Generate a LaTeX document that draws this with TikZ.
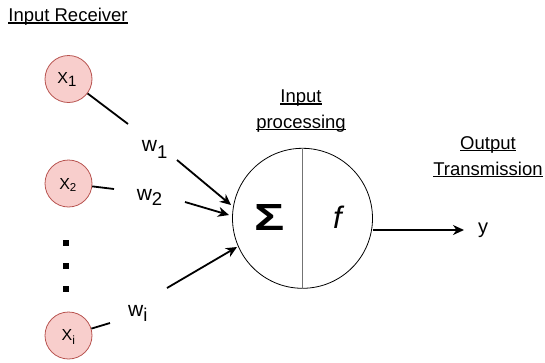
\documentclass[tikz,border=0pt]{standalone}
\usepackage{fontspec}
\setmainfont{Liberation Sans}
\usetikzlibrary{arrows.meta}
\definecolor{infill}{HTML}{F8CECC}
\definecolor{indraw}{HTML}{B85450}
\newcommand\myul[1]{\setbox0\hbox{#1}\rlap{\vrule width\wd0 height -0.5pt depth 1.8pt}\box0}
\begin{document}
\begin{tikzpicture}[x=1pt,y=-1pt,
  inp/.style={circle, draw=indraw, fill=infill, line width=0.8pt, minimum size=47pt, inner sep=0pt},
  lbl/.style={font=\fontsize{18.5}{22}\selectfont, inner sep=0pt, anchor=base},
  xl/.style={font=\fontsize{16}{18}\selectfont, inner sep=0pt, anchor=base},
  wl/.style={font=\fontsize{21}{22}\selectfont, inner sep=0pt, anchor=base},
  dotsq/.style={fill=black, minimum size=6pt, inner sep=0pt},
  conn/.style={line width=1.8pt},
  arr/.style={conn, -{Stealth[length=11pt,width=10pt,inset=3.5pt]}}]
\useasboundingbox (0,0) rectangle (545,362);
% headings
\node[lbl] (lr) at (68,21.7) {\myul{Input Receiver}};
\node[lbl] (ip1) at (301,102.7) {\myul{Input}};
\node[lbl] (ip2) at (301,128.5) {\myul{processing}};
\node[lbl] (ot1) at (488,149.3) {\myul{Output}};
\node[lbl] (ot2) at (488,175) {\myul{Transmission}};
% inputs
\node[inp] (x1) at (68.5,79) {};
\node[inp] (x2) at (68.5,183.5) {};
\node[inp] (xi) at (68.5,335.5) {};
\node[xl] (x1t) at (67,83.3) {X\raisebox{-3.4pt}{\fontsize{15}{15}\selectfont 1}};
\node[xl] (x2t) at (67.8,189) {X\raisebox{-2.7pt}{\fontsize{11.5}{12}\selectfont 2}};
\node[xl] (xit) at (68.3,340.7) {X\raisebox{-3.3pt}{\fontsize{12}{12}\selectfont i}};
\node[dotsq] (d1) at (66.3,242.5) {};
\node[dotsq] (d2) at (66.3,266) {};
\node[dotsq] (d3) at (66.3,289) {};
% weights
\node[wl] (w1) at (154.7,151.7) {w\raisebox{-6.6pt}{\fontsize{18.5}{18}\selectfont 1}};
\node[wl] (w2) at (149.5,200) {w\raisebox{-5pt}{\fontsize{18.5}{18}\selectfont 2}};
\node[wl] (wi) at (137.8,316.7) {w\raisebox{-5pt}{\fontsize{18.5}{18}\selectfont i}};
% neuron
\node[circle, draw, line width=0.8pt, minimum size=140pt, inner sep=0pt] (neu) at (302.5,218.3) {};
\draw[line width=1.2pt, black!55] (neu.north) -- (neu.south);
\node[inner sep=0pt, anchor=base, font=\fontsize{36}{36}\selectfont\bfseries] (sig) at (270,230.5) {\scalebox{1.4}[1.05]{Σ}};
\node[inner sep=0pt, anchor=base, font=\fontsize{31}{31}\selectfont\itshape] (fn) at (337.5,228) {f};
\node[inner sep=0pt, anchor=base, font=\fontsize{20}{22}\selectfont] (y) at (483,233.7) {y};
% connector end points
\coordinate (c1) at (128,124);
\coordinate (a1s) at (177,160);
\coordinate (a1e) at (231,205);
\coordinate (c2) at (114,189);
\coordinate (a2s) at (185,202);
\coordinate (a2e) at (229,215);
\coordinate (ci) at (110,323);
\coordinate (ais) at (167,288);
\coordinate (aie) at (237,247);
\coordinate (os) at (373,230);
\coordinate (oe) at (464,230);
% connectors
\draw[conn] (x1) -- (c1);
\draw[arr] (a1s) -- (a1e);
\draw[conn] (x2) -- (c2);
\draw[arr] (a2s) -- (a2e);
\draw[conn] (xi) -- (ci);
\draw[arr] (ais) -- (aie);
\draw[arr] (os) -- (oe);
\end{tikzpicture}
\end{document}
